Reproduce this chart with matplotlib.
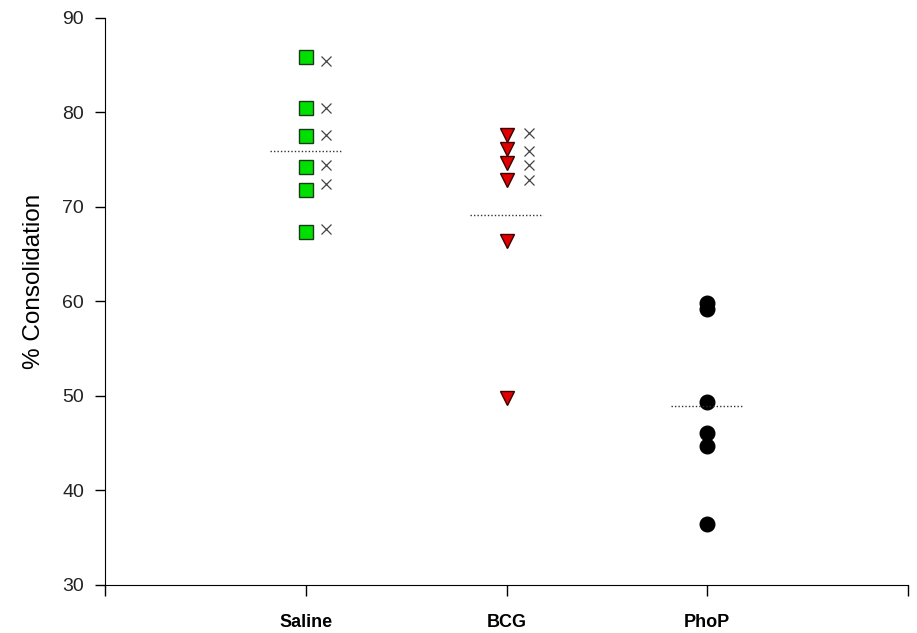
import numpy as np
import matplotlib
matplotlib.use("Agg")
import matplotlib.pyplot as plt

plt.rcParams['font.family'] = ['Liberation Sans', 'DejaVu Sans']

groups = ['Saline', 'BCG', 'PhoP']

saline = [85.8, 80.4, 77.5, 74.2, 71.8, 67.3]
saline_x = [85.4, 80.5, 77.6, 74.4, 72.4, 67.6]
bcg = [77.6, 76.1, 74.6, 72.8, 66.4, 49.8]
bcg_x = [77.8, 75.9, 74.4, 72.8]
phop = [59.8, 59.2, 49.4, 46.1, 44.7, 36.4]
means = [75.9, 69.1, 48.9]

fig = plt.figure(figsize=(9.17, 6.33), dpi=100)
ax = fig.add_axes([0.1145, 0.076, 0.8757, 0.896])

ax.plot([1]*len(saline), saline, 's', ms=9.5, mfc='#00e000', mec='#1a3a1a', mew=1.0, ls='none')
ax.plot([1.1]*len(saline_x), saline_x, 'x', ms=7, color='#444444', mew=0.9, ls='none')
ax.plot([2]*len(bcg), bcg, 'v', ms=10, mfc='#e00000', mec='#3a0000', mew=1.0, ls='none')
ax.plot([2.11]*len(bcg_x), bcg_x, 'x', ms=7, color='#444444', mew=0.9, ls='none')
ax.plot([3]*len(phop), phop, 'o', ms=10.5, mfc='black', mec='black', ls='none')

for i, m in enumerate(means):
    ax.plot([i + 1 - 0.18, i + 1 + 0.18], [m, m], ls=(0, (1, 1.5)), color='#333333', lw=1.0)

ax.set_xlim(0, 4)
ax.set_ylim(30, 90)
ax.set_yticks(np.arange(30, 91, 10))
ax.set_xticks([0, 1, 2, 3, 4])
ax.set_xticklabels([''] + groups + [''], fontweight='bold', fontsize=13)
ax.tick_params(axis='y', labelsize=14, labelcolor='#222222', length=7, direction='out', width=1, pad=8)
ax.tick_params(axis='x', length=8, direction='out', width=1, pad=13)
ax.spines['top'].set_visible(False)
ax.spines['right'].set_visible(False)
ax.set_ylabel('% Consolidation', fontsize=17.5)
ax.yaxis.set_label_coords(-0.075, 0.535)

fig.savefig('out.png', dpi=100)
